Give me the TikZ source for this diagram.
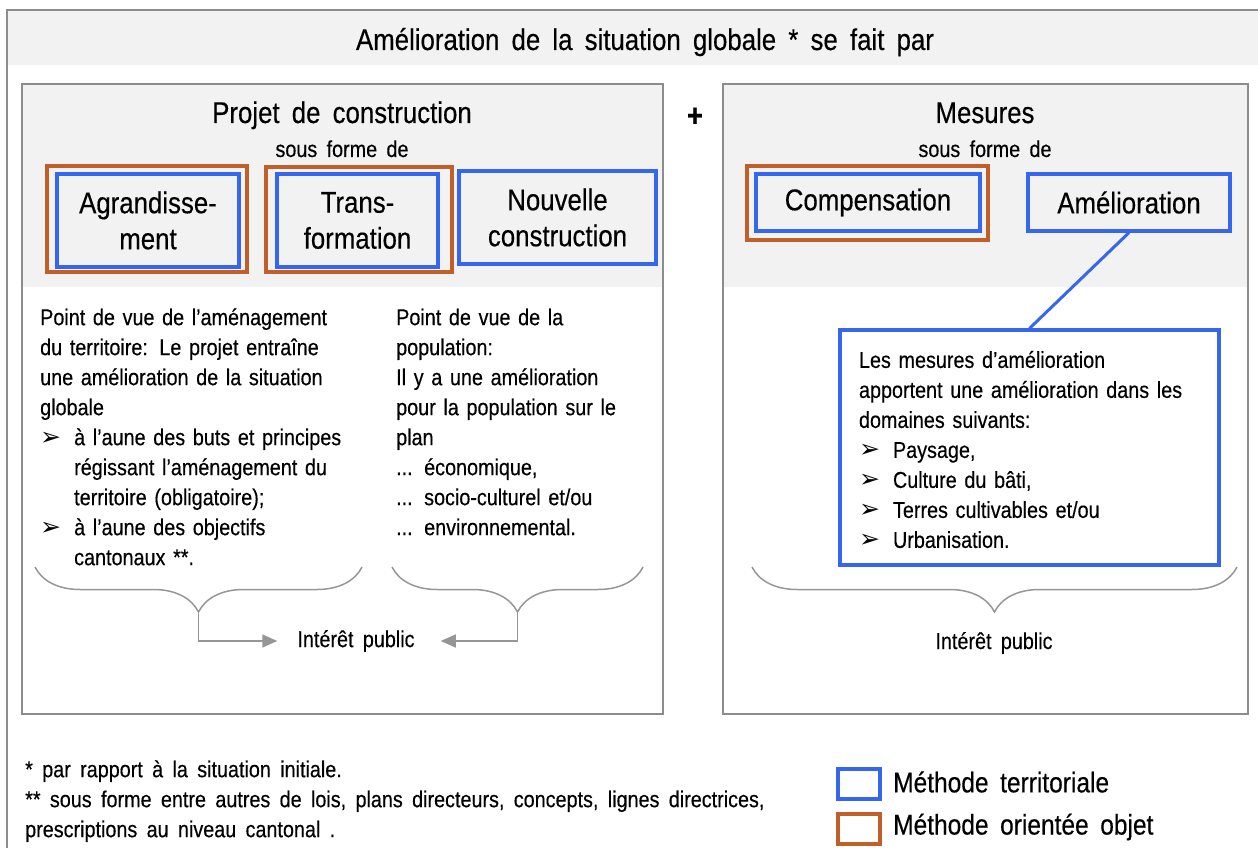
\documentclass[tikz,border=0pt]{standalone}
\usepackage{fontspec}
\setmainfont{Liberation Sans}[FakeStretch=0.86,WordSpace=1.7,FakeBold=0.35]
\newfontfamily\symfont{DejaVu Sans}
\usetikzlibrary{arrows.meta}
\usetikzlibrary{decorations.pathreplacing}

\definecolor{terrblue}{RGB}{52,102,238}
\definecolor{objorange}{RGB}{192,96,40}
\definecolor{framegray}{RGB}{140,140,140}
\definecolor{bandgray}{RGB}{242,242,242}
\definecolor{bracegray}{RGB}{150,150,150}

\newcommand{\bul}{{\symfont\fontsize{25}{30}\selectfont ➢}}
\newcommand{\itembul}{\makebox[34pt][l]{\bul}}
\newcommand{\itemgap}{\hspace*{34pt}}

\begin{document}
\begin{tikzpicture}[x=1pt,y=-1pt,
  terr/.style={draw=terrblue,line width=3.2pt,inner sep=0pt,align=center,
    font=\fontsize{30}{36}\selectfont},
  obj/.style={draw=objorange,line width=3.6pt,inner sep=0pt},
  panel/.style={draw=framegray,line width=1.8pt},
  body/.style={inner sep=0pt,align=left,anchor=north west,
    font=\fontsize{23}{30}\selectfont},
  title/.style={anchor=base,inner sep=0pt,font=\fontsize{30}{36}\selectfont},
  subtitle/.style={anchor=base,inner sep=0pt,font=\fontsize{23}{30}\selectfont},
  brace/.style={decorate,decoration={brace,amplitude=45pt},draw=bracegray,
    line width=1.5pt},
  pub/.style={draw=bracegray,line width=1.5pt,
    -{Triangle[length=15pt,width=13pt]}}]
\useasboundingbox (0,0) rectangle (1258,848);

% outer frame and heading band
\fill[bandgray] (7,10) rectangle (1258,65);
\draw[framegray,line width=1.8pt] (1258,10) -- (7,10) -- (7,848);
\node[title] (head) at (645,50) {Amélioration de la situation globale * se fait par};

% the two panels
\fill[bandgray] (22,84) rectangle (663,287);
\draw[panel] (22,84) rectangle (663,714);
\fill[bandgray] (723,84) rectangle (1248,287);
\draw[panel] (723,84) rectangle (1248,714);
\node[font=\bfseries\fontsize{32}{36}\selectfont,inner sep=0pt] (plus) at (695,117) {+};

% left panel: building project
\node[title] (projet) at (342,123) {Projet de construction};
\node[subtitle] (formeL) at (342,157) {sous forme de};
\node[obj,minimum width=200,minimum height=106] (agrO) at (147,219) {};
\node[terr,minimum width=182,minimum height=93] (agr) at (148,220.5) {Agrandisse-\\ment};
\node[obj,minimum width=186,minimum height=105] (traO) at (359,219.5) {};
\node[terr,minimum width=161,minimum height=93] (tra) at (357.5,220.5) {Trans-\\formation};
\node[terr,minimum width=197,minimum height=93] (nouv) at (557.5,217.5) {Nouvelle\\construction};

\node[body,text width=330] (amenag) at (40,304) {\strut Point de vue de l'aménagement\\
du territoire: Le projet entraîne\\
une amélioration de la situation\\
globale\\
\itembul à l’aune des buts et principes\\
\itemgap régissant l’aménagement du\\
\itemgap territoire (obligatoire);\\
\itembul à l’aune des objectifs\\
\itemgap cantonaux **.};
\node[body,text width=260] (popul) at (396,304) {\strut Point de vue de la\\
population:\\
Il y a une amélioration\\
pour la population sur le\\
plan\\
... économique,\\
... socio-culturel et/ou\\
... environnemental.};

\draw[brace] (362,567) -- (35,567);
\draw[brace] (643,567) -- (392,567);
\coordinate (tipA) at (198.5,612);
\coordinate (tipB) at (517.5,612);
\node[subtitle,anchor=center] (pubL) at (356,641) {Intérêt public};
\draw[pub,shorten >=20pt] (tipA) |- (pubL.west);
\draw[pub,shorten >=26pt] (tipB) |- (pubL.east);

% right panel: measures
\node[title] (mesures) at (985,123) {Mesures};
\node[subtitle] (formeR) at (985,157) {sous forme de};
\node[obj,minimum width=241,minimum height=74] (compO) at (867.5,203) {};
\node[terr,minimum width=224,minimum height=57] (comp) at (868,202.5) {Compensation};
\node[terr,minimum width=202,minimum height=57] (amel) at (1129,202.5) {Amélioration};
\node[terr,text width=341,inner xsep=19pt,minimum height=235,align=left,
  font=\fontsize{23}{30}\selectfont] (mesbox) at (1029.5,447.5) {\strut Les mesures d’amélioration\\
apportent une amélioration dans les\\
domaines suivants:\\
\itembul Paysage,\\
\itembul Culture du bâti,\\
\itembul Terres cultivables et/ou\\
\itembul Urbanisation.};
\draw[terrblue,line width=3pt] (amel.south) -- (mesbox.north);

\draw[brace] (1237,567) -- (752,567);
\coordinate (tipC) at (994.5,612);
\node[subtitle] (pubR) at (994,649) {Intérêt public};

% footnotes and legend
\node[body,font=\fontsize{23}{30}\selectfont] (notes) at (25,756) {\strut * par rapport à la situation initiale.\\
** sous forme entre autres de lois, plans directeurs, concepts, lignes directrices,\\
prescriptions au niveau cantonal .};
\node[draw=terrblue,line width=3.2pt,minimum width=42,minimum height=30] (legterr) at (859,784) {};
\node[draw=objorange,line width=3.6pt,minimum width=42,minimum height=30] (legobj) at (859,829) {};
\node[anchor=west,inner sep=0pt,font=\fontsize{28.5}{30}\selectfont] (legterrtxt) at (893,782) {Méthode territoriale};
\node[anchor=west,inner sep=0pt,font=\fontsize{28.5}{30}\selectfont] (legobjtxt) at (893,827) {Méthode orientée objet};
\end{tikzpicture}
\end{document}
